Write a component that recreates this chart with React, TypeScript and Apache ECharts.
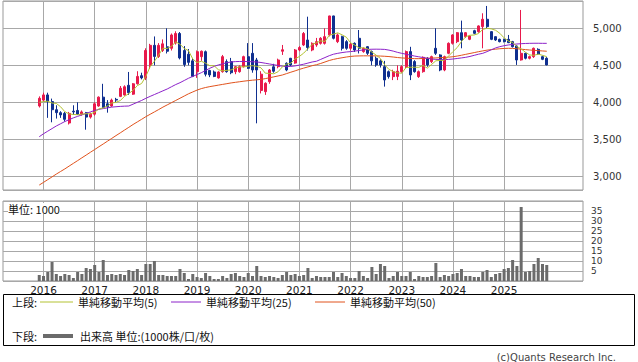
import { useEffect, useRef } from "react";
import * as echarts from "echarts";

// First plotted month and empty months shown before / after the data
const firstYear = 2015;
const firstMonth = 12;
const padBefore = 8;
const padAfter = 8;

const opens = [
  3950, 4030, 4100, 4010, 3900, 3860, 3850, 3720, 3880, 3890,
  3840, 3860, 3800, 3840, 3950, 4070, 3980, 3950, 4040, 4080,
  4100, 4230, 4110, 4250, 4360, 4330, 4500, 4770, 4620, 4700,
  4750, 4730, 4800, 4930, 4700, 4650, 4560, 4414, 4617, 4684,
  4430, 4410, 4330, 4414, 4550, 4550, 4414, 4414, 4482, 4617,
  4662, 4572, 4160, 4144, 4279, 4480, 4482, 4690, 4527, 4595,
  4530, 4707, 4775, 4842, 4707, 4775, 4797, 4797, 4910, 5167,
  4820, 4887, 4820, 4730, 4797, 4865, 4685, 4752, 4685, 4595,
  4560, 4482, 4414, 4347, 4350, 4414, 4482, 4685, 4550, 4347,
  4414, 4595, 4550, 4730, 4640, 4437, 4662, 4797, 4820, 4941,
  4887, 4851, 4968, 4955, 5023, 5122, 4955, 4887, 4851, 4851,
  4851, 4820, 4761, 4572, 4662, 4595, 4617, 4716, 4617, 4595,
];
const closes = [
  4054, 4100, 4010, 3900, 3860, 3830, 3770, 3850, 3870, 3840,
  3870, 3800, 3840, 3980, 4070, 3930, 3940, 4030, 4030, 4190,
  4210, 4130, 4250, 4350, 4330, 4700, 4770, 4620, 4770, 4790,
  4690, 4910, 4930, 4600, 4510, 4540, 4350, 4684, 4690, 4380,
  4370, 4350, 4410, 4617, 4414, 4400, 4482, 4482, 4617, 4459,
  4437, 4437, 4380, 4257, 4437, 4420, 4572, 4710, 4437, 4505,
  4707, 4740, 4930, 4740, 4797, 4820, 4865, 4887, 5167, 4865,
  4910, 4730, 4730, 4785, 4707, 4730, 4730, 4662, 4560, 4505,
  4505, 4302, 4347, 4414, 4420, 4482, 4685, 4370, 4414, 4414,
  4608, 4505, 4617, 4662, 4437, 4617, 4797, 4910, 4941, 4842,
  4941, 4896, 4932, 5032, 5122, 5023, 4851, 4842, 4820, 4820,
  4806, 4752, 4572, 4662, 4595, 4617, 4730, 4653, 4581, 4505,
];
const lows = [
  3930, 4010, 3790, 3730, 3780, 3790, 3740, 3700, 3830, 3830,
  3820, 3630, 3780, 3820, 3940, 3920, 3860, 3940, 4000, 4070,
  4090, 4100, 4100, 4240, 4310, 4300, 4450, 4500, 4600, 4680,
  4660, 4700, 4780, 4580, 4480, 4500, 4340, 4330, 4560, 4350,
  4340, 4340, 4320, 4400, 4400, 4380, 4380, 4400, 4470, 4450,
  4400, 3716, 4120, 4100, 4250, 4400, 4460, 4640, 4420, 4490,
  4520, 4690, 4760, 4700, 4690, 4750, 4780, 4780, 4890, 4850,
  4800, 4700, 4710, 4700, 4680, 4660, 4670, 4640, 4500, 4480,
  4470, 4212, 4320, 4300, 4300, 4400, 4460, 4300, 4400, 4330,
  4400, 4480, 4530, 4640, 4420, 4420, 4650, 4780, 4800, 4730,
  4870, 4840, 4920, 4940, 4730, 5000, 4840, 4830, 4810, 4810,
  4800, 4740, 4505, 4563, 4580, 4580, 4600, 4640, 4570, 4500,
];
const highs = [
  4080, 4130, 4130, 4050, 3960, 3880, 3870, 3870, 3960, 4000,
  3890, 3870, 3860, 4000, 4080, 4250, 4030, 4050, 4060, 4220,
  4230, 4410, 4260, 4420, 4400, 4730, 4790, 4890, 4800, 4850,
  5000, 4930, 4960, 4950, 4760, 4720, 4600, 4700, 4700, 4700,
  4440, 4430, 4420, 4640, 4580, 4600, 4490, 4500, 4630, 4800,
  4800, 4600, 4420, 4270, 4450, 4520, 4590, 4775, 4540, 4600,
  4720, 4760, 4950, 5157, 4810, 4870, 4880, 5000, 5170, 5170,
  4930, 4900, 4840, 4800, 4810, 4977, 4740, 4760, 4700, 4620,
  4580, 4560, 4430, 4440, 4500, 4500, 4700, 4750, 4570, 4430,
  4620, 4610, 4630, 5000, 4650, 4630, 4810, 4920, 4950, 5104,
  4950, 4910, 4980, 5040, 5203, 5302, 4960, 4890, 4860, 4860,
  4910, 4830, 4770, 5248, 4670, 4630, 4740, 4730, 4630, 4610,
];
// Volume, in units of 1000
const volumes = [
  3, 2.5, 4.5, 9.5, 3.5, 2.5, 3.5, 3, 1.5, 4.5,
  3.5, 6.5, 6, 8, 4.5, 10.5, 3, 3.5, 3, 3.5,
  3, 5.5, 5, 6, 3, 8.5, 8.5, 10, 3, 3,
  2.5, 2.5, 2.5, 6, 4, 1, 3.5, 2, 1.5, 4,
  2.5, 1, 1, 2.5, 1.5, 3.5, 4, 2.5, 2, 4,
  2.5, 7.5, 2.5, 2, 2.5, 2, 1.5, 3, 4.5, 3,
  3.5, 2.5, 3, 6.5, 1.5, 2.5, 2, 2, 2, 4.5,
  2, 4, 2.5, 1.5, 1.5, 5, 2.5, 1.5, 7, 3.5,
  8.5, 7.5, 1.5, 2.5, 4.5, 2.5, 2.5, 4.5, 1, 2.5,
  2, 2, 2.5, 9, 2, 3, 2.5, 3.5, 4, 6,
  2.5, 2.5, 2, 2, 4.5, 5.5, 2, 3.5, 4, 6,
  6.5, 10.5, 7.5, 37, 4.5, 5, 8.5, 11.5, 8.5, 8,
];
// MA5 for the first four months (earlier closes are off the chart)
const ma5Lead = [4000, 4010, 4015, 3990];
const ma25 = [
  3535, 3575, 3610, 3645, 3680, 3710, 3740, 3765, 3790, 3810,
  3830, 3850, 3870, 3890, 3905, 3915, 3925, 3935, 3940, 3945,
  3948, 3950, 3975, 4000, 4025, 4054, 4080, 4105, 4130, 4155,
  4180, 4210, 4240, 4265, 4295, 4325, 4350, 4375, 4400, 4430,
  4460, 4485, 4505, 4520, 4535, 4545, 4550, 4552, 4552, 4550,
  4548, 4545, 4538, 4528, 4518, 4508, 4498, 4488, 4482, 4485,
  4492, 4503, 4515, 4530, 4545, 4555, 4580, 4605, 4630, 4650,
  4662, 4672, 4680, 4685, 4692, 4700, 4708, 4715, 4717, 4718,
  4717, 4715, 4705, 4692, 4675, 4662, 4650, 4638, 4625, 4615,
  4605, 4595, 4585, 4580, 4578, 4578, 4580, 4585, 4592, 4600,
  4608, 4620, 4635, 4650, 4662, 4685, 4710, 4735, 4752, 4765,
  4775, 4782, 4788, 4792, 4795, 4797, 4798, 4798, 4797, 4797,
];
const ma50 = [
  2882, 2918, 2955, 2992, 3030, 3065, 3100, 3138, 3175, 3212,
  3250, 3287, 3325, 3362, 3400, 3437, 3475, 3512, 3550, 3587,
  3625, 3662, 3700, 3735, 3770, 3806, 3838, 3870, 3902, 3935,
  3965, 3995, 4025, 4055, 4085, 4115, 4140, 4165, 4185, 4200,
  4212, 4222, 4232, 4242, 4252, 4262, 4270, 4278, 4286, 4293,
  4299, 4304, 4310, 4320, 4332, 4344, 4356, 4369, 4388, 4407,
  4425, 4445, 4462, 4478, 4495, 4508, 4525, 4545, 4565, 4580,
  4592, 4602, 4612, 4620, 4625, 4627, 4628, 4628, 4628, 4627,
  4625, 4622, 4618, 4612, 4605, 4600, 4596, 4593, 4590, 4590,
  4592, 4595, 4598, 4600, 4603, 4606, 4610, 4616, 4625, 4636,
  4648, 4660, 4672, 4684, 4695, 4705, 4712, 4718, 4724, 4728,
  4730, 4728, 4724, 4718, 4712, 4707, 4702, 4698, 4694, 4690,
];

const UP = "#e8194b";
const DOWN = "#0f2f8f";
const C_MA5 = "#b3c233";
const C_MA25 = "#8c22c9";
const C_MA50 = "#e0521c";
const C_VOL = "#6b6b6b";
const GRID = "#a8a8a8";

const CJK = "'Noto Sans CJK JP', sans-serif";
const LATIN = "'DejaVu Sans', sans-serif";

function label(y: number, m: number) {
  return `${y}-${String(m).padStart(2, "0")}`;
}
function shift(y: number, m: number, k: number): [number, number] {
  const t = y * 12 + (m - 1) + k;
  return [Math.floor(t / 12), (t % 12) + 1];
}

export default function App() {
  const ref = useRef<HTMLDivElement>(null);

  useEffect(() => {
    const n = closes.length;
    const dataMonths: string[] = [];
    for (let i = 0; i < n; i++) {
      const [y, m] = shift(firstYear, firstMonth, i);
      dataMonths.push(label(y, m));
    }
    const axisMonths: string[] = [];
    for (let k = -padBefore; k < n + padAfter; k++) {
      const [y, m] = shift(firstYear, firstMonth, k);
      axisMonths.push(label(y, m));
    }
    const ma5 = closes.map((_, i) => {
      if (i < 4) return ma5Lead[i];
      let s = 0;
      for (let j = i - 4; j <= i; j++) s += closes[j];
      return Math.round(s / 5);
    });
    const source = dataMonths.map((mo, i) => [
      mo, opens[i], closes[i], lows[i], highs[i], volumes[i], ma5[i], ma25[i], ma50[i],
    ]);

    const lastMonth = dataMonths[n - 1];
    const firstData = dataMonths[0];
    const isJan = (_: number, v: string) =>
      String(v).endsWith("-01") && String(v) >= firstData && String(v) <= lastMonth;

    const xBase: any = {
      type: "category",
      data: axisMonths,
      boundaryGap: true,
      axisLine: { show: false },
      axisTick: { show: false },
      splitLine: {
        show: true,
        interval: isJan,
        alignWithLabel: true,
        lineStyle: { color: GRID, width: 1 },
      },
    };

    const chart = echarts.init(ref.current!, null, { renderer: "svg" });
    chart.setOption({
      animation: false,
      backgroundColor: "#ffffff",
      dataset: {
        dimensions: ["month", "open", "close", "low", "high", "vol", "ma5", "ma25", "ma50"],
        source,
      },
      grid: [
        { left: 3, top: 1, width: 580, height: 189, show: true, borderColor: "#999", borderWidth: 1, backgroundColor: "transparent" },
        { left: 3, top: 201, width: 580, height: 80, show: true, borderColor: "#999", borderWidth: 1, backgroundColor: "transparent" },
      ],
      xAxis: [
        { ...xBase, gridIndex: 0, axisLabel: { show: false } },
        {
          ...xBase,
          gridIndex: 1,
          axisLabel: {
            show: true,
            interval: isJan,
            formatter: (v: string) => v.slice(0, 4),
            fontSize: 10.5,
            fontFamily: LATIN,
            color: "#222",
            margin: 3,
          },
        },
      ],
      yAxis: [
        {
          type: "value",
          gridIndex: 0,
          position: "right",
          min: 2815,
          max: 5369,
          minInterval: 500,
          maxInterval: 500,
          axisLine: { show: false },
          axisTick: { show: false },
          splitLine: { show: true, lineStyle: { color: GRID, width: 1 } },
          axisLabel: {
            showMinLabel: false,
            showMaxLabel: false,
            formatter: (v: number) => v.toLocaleString("en-US"),
            fontSize: 10,
            fontFamily: LATIN,
            color: "#333",
            margin: 10,
          },
        },
        {
          type: "value",
          gridIndex: 1,
          position: "right",
          min: 0,
          max: 40,
          interval: 5,
          axisLine: { show: false },
          axisTick: { show: false },
          splitLine: { show: true, lineStyle: { color: GRID, width: 1 } },
          axisLabel: {
            showMinLabel: false,
            showMaxLabel: false,
            fontSize: 9,
            lineHeight: 9,
            fontFamily: LATIN,
            color: "#333",
            margin: 8,
          },
        },
      ],
      series: [
        {
          type: "candlestick",
          xAxisIndex: 0,
          yAxisIndex: 0,
          encode: { x: "month", y: ["open", "close", "low", "high"] },
          barWidth: 2.5,
          itemStyle: { color: UP, color0: DOWN, borderColor: UP, borderColor0: DOWN, borderWidth: 1 },
        },
        {
          type: "line",
          xAxisIndex: 0,
          yAxisIndex: 0,
          encode: { x: "month", y: "ma50" },
          showSymbol: false,
          lineStyle: { color: C_MA50, width: 1 },
        },
        {
          type: "line",
          xAxisIndex: 0,
          yAxisIndex: 0,
          encode: { x: "month", y: "ma25" },
          showSymbol: false,
          lineStyle: { color: C_MA25, width: 1 },
        },
        {
          type: "line",
          xAxisIndex: 0,
          yAxisIndex: 0,
          encode: { x: "month", y: "ma5" },
          showSymbol: false,
          lineStyle: { color: C_MA5, width: 1 },
        },
        {
          type: "bar",
          xAxisIndex: 1,
          yAxisIndex: 1,
          encode: { x: "month", y: "vol" },
          barWidth: 3,
          itemStyle: { color: C_VOL },
        },
      ],
      graphic: [
        {
          type: "text",
          left: 8,
          top: 203,
          z: 10,
          style: { text: "単位: 1000", font: `11px ${CJK}`, fill: "#111", backgroundColor: "#fff" },
        },
        {
          type: "rect",
          shape: { x: 3.5, y: 294.5, width: 631, height: 51 },
          style: { fill: "none", stroke: "#000", lineWidth: 1 },
        },
        { type: "text", x: 12, y: 302, style: { text: "上段:", font: `11px ${CJK}`, fill: "#111", verticalAlign: "middle" } },
        { type: "line", shape: { x1: 40, y1: 302, x2: 73, y2: 302 }, style: { stroke: C_MA5, lineWidth: 1 } },
        { type: "text", x: 78, y: 302, style: { text: "単純移動平均(5)", font: `11px ${CJK}`, fill: "#111", verticalAlign: "middle" } },
        { type: "line", shape: { x1: 171, y1: 302, x2: 201, y2: 302 }, style: { stroke: C_MA25, lineWidth: 1 } },
        { type: "text", x: 206, y: 302, style: { text: "単純移動平均(25)", font: `11px ${CJK}`, fill: "#111", verticalAlign: "middle" } },
        { type: "line", shape: { x1: 315, y1: 302, x2: 345, y2: 302 }, style: { stroke: C_MA50, lineWidth: 1 } },
        { type: "text", x: 350, y: 302, style: { text: "単純移動平均(50)", font: `11px ${CJK}`, fill: "#111", verticalAlign: "middle" } },
        { type: "text", x: 12, y: 336, style: { text: "下段:", font: `11px ${CJK}`, fill: "#111", verticalAlign: "middle" } },
        { type: "line", shape: { x1: 43, y1: 336, x2: 73, y2: 336 }, style: { stroke: C_VOL, lineWidth: 4 } },
        { type: "text", x: 80, y: 336, style: { text: "出来高 単位:(1000株/口/枚)", font: `11px ${CJK}`, fill: "#111", verticalAlign: "middle" } },
        { type: "text", x: 616, y: 357, style: { text: "(c)Quants Research Inc.", font: `10px ${LATIN}`, fill: "#444", align: "right", verticalAlign: "middle" } },
      ],
    });
    return () => chart.dispose();
  }, []);

  return (
    <div
      ref={ref}
      style={{ position: "absolute", left: 0, top: 0, width: 638, height: 362, background: "#fff" }}
    />
  );
}
